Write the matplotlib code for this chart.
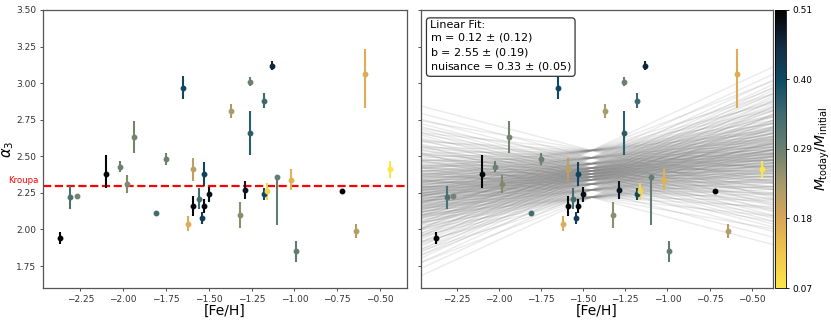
import matplotlib

matplotlib.use("Agg")
import matplotlib.pyplot as plt
import matplotlib.transforms as mtransforms
from matplotlib.colors import LinearSegmentedColormap, Normalize
from matplotlib.cm import ScalarMappable

# --- data ------------------------------------------------------------------
feh = [-2.37, -2.31, -2.27, -2.10, -2.02, -1.98, -1.94, -1.75, -1.65, -1.81,
       -1.62, -1.59, -1.59, -1.56, -1.54, -1.53, -1.53, -1.50, -1.37, -1.32,
       -1.26, -1.29, -1.26, -1.18, -1.13, -1.18, -1.16, -1.10, -1.02, -0.99,
       -0.72, -0.64, -0.59, -0.44]
alpha3 = [1.94, 2.22, 2.23, 2.38, 2.43, 2.31, 2.63, 2.48, 2.97, 2.11,
          2.04, 2.41, 2.16, 2.21, 2.08, 2.16, 2.38, 2.24, 2.81, 2.10,
          2.66, 2.27, 3.01, 2.88, 3.12, 2.24, 2.26, 2.36, 2.34, 1.85,
          2.26, 1.99, 3.06, 2.41]
err_lo = [0.04, 0.08, 0.01, 0.10, 0.04, 0.06, 0.11, 0.04, 0.08, 0.0,
          0.05, 0.08, 0.07, 0.07, 0.04, 0.05, 0.08, 0.05, 0.05, 0.09,
          0.15, 0.06, 0.03, 0.05, 0.03, 0.04, 0.06, 0.33, 0.07, 0.07,
          0.0, 0.05, 0.23, 0.06]
err_hi = [0.04, 0.08, 0.01, 0.13, 0.04, 0.06, 0.11, 0.04, 0.08, 0.0,
          0.05, 0.08, 0.07, 0.07, 0.04, 0.05, 0.08, 0.05, 0.05, 0.09,
          0.15, 0.06, 0.03, 0.05, 0.03, 0.04, 0.06, 0.01, 0.07, 0.07,
          0.0, 0.05, 0.17, 0.06]
mass_frac = [0.51, 0.33, 0.28, 0.50, 0.29, 0.27, 0.28, 0.29, 0.40, 0.34,
             0.17, 0.21, 0.50, 0.34, 0.42, 0.50, 0.41, 0.49, 0.23, 0.26,
             0.37, 0.48, 0.29, 0.35, 0.46, 0.40, 0.10, 0.30, 0.16, 0.30,
             0.51, 0.22, 0.17, 0.07]

# posterior line samples (slope, value at pivot [Fe/H])
fit_slopes = [-0.30, -0.20, -0.12, -0.06, -0.02, 0.02, 0.05, 0.07, 0.09, 0.11,
              0.12, 0.13, 0.15, 0.17, 0.19, 0.22, 0.26, 0.30, 0.36, 0.44, 0.53]
fit_levels = [2.22, 2.27, 2.31, 2.34, 2.36, 2.38, 2.40, 2.42, 2.45, 2.49, 2.54]
fit_pivot = -1.45

kroupa = 2.3
cbar_ticks = [0.07, 0.18, 0.29, 0.40, 0.51]
y_ticks = [1.75, 2.00, 2.25, 2.50, 2.75, 3.00, 3.25, 3.50]
x_ticks = [-2.25, -2.00, -1.75, -1.50, -1.25, -1.00, -0.75, -0.50]

cmap = LinearSegmentedColormap.from_list(
    "mfrac",
    [(0.0, "#fbe64a"), (0.12, "#f0c84c"), (0.25, "#d8a658"), (0.37, "#a89a6c"),
     (0.5, "#6a8070"), (0.63, "#3f6a70"), (0.75, "#0f4a62"), (0.87, "#142c44"),
     (1.0, "#000000")],
)
norm = Normalize(vmin=0.07, vmax=0.51)

fig = plt.figure(figsize=(8.31, 3.2), dpi=100)
ax1 = fig.add_axes([0.0521, 0.1, 0.4373, 0.8688])
ax2 = fig.add_axes([0.5066, 0.1, 0.4239, 0.8688])
cax = fig.add_axes([0.9326, 0.1, 0.0129, 0.8688])

# fit samples on the right panel
xline = [-2.6, -0.2]
for m in fit_slopes:
    for c in fit_levels:
        ax2.plot(xline, [c + m * (x - fit_pivot) for x in xline],
                 color="gray", alpha=0.16, lw=1, zorder=1)


def draw_points(ax):
    for x, y, lo, hi, v in zip(feh, alpha3, err_lo, err_hi, mass_frac):
        col = cmap(norm(v))
        ax.errorbar([x], [y], yerr=[[lo], [hi]], fmt="o", color=col,
                    ms=3.2, elinewidth=1.5, capsize=0, zorder=3)


draw_points(ax1)
draw_points(ax2)

ax1.axhline(kroupa, color="red", ls="--", lw=1.6, zorder=2)
trans = mtransforms.blended_transform_factory(ax1.transAxes, ax1.transData)
ax1.text(-0.012, kroupa + 0.005, "Kroupa", color="red", fontsize=6.2,
         ha="right", va="bottom", transform=trans)

ax1.set_xlim(-2.467, -0.344)
ax2.set_xlim(-2.462, -0.372)
for ax in (ax1, ax2):
    ax.set_ylim(1.6, 3.5)
    ax.set_yticks(y_ticks)
    ax.set_xticks(x_ticks)
    ax.tick_params(labelsize=6.5, length=2.5, width=0.6, pad=2.5,
                   colors="#333333")
    for sp in ax.spines.values():
        sp.set_color("#555555")
        sp.set_linewidth(0.9)
    ax.set_xlabel("[Fe/H]", fontsize=10)
    ax.xaxis.set_label_coords(0.5, -0.058)
ax2.tick_params(labelleft=False)
ax1.set_ylabel(r"$\alpha_3$", fontsize=10.5)
ax1.yaxis.set_label_coords(-0.075, 0.5)

ax2.text(0.025, 0.965,
         "Linear Fit:\nm = 0.12 $\\pm$ (0.12)\nb = 2.55 $\\pm$ (0.19)\nnuisance = 0.33 $\\pm$ (0.05)",
         transform=ax2.transAxes, fontsize=8, va="top", ha="left",
         linespacing=1.15,
         bbox=dict(boxstyle="round,pad=0.3", facecolor="white",
                   edgecolor="#333333", linewidth=0.9), zorder=5)

sm = ScalarMappable(norm=norm, cmap=cmap)
cb = fig.colorbar(sm, cax=cax, ticks=cbar_ticks)
cb.ax.set_yticklabels([f"{t:.2f}" for t in cbar_ticks])
cb.ax.tick_params(labelsize=6.5, length=2.5, width=0.6, pad=2)
cb.outline.set_linewidth(0.6)
cb.set_label(r"$M_{\rm today}/M_{\rm initial}$", fontsize=10)
cb.ax.yaxis.set_label_coords(3.6, 0.5)

fig.savefig("out.png", dpi=100)
